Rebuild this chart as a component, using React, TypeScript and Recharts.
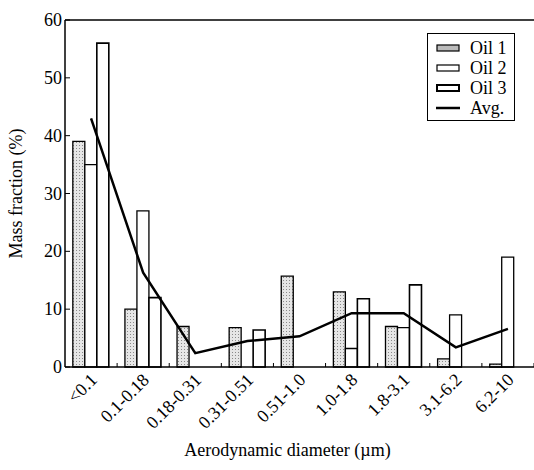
import React from "react";
import { ComposedChart, Bar, Line, XAxis, YAxis, ReferenceLine, Label } from "recharts";

const sizeBins = ["<0.1", "0.1-0.18", "0.18-0.31", "0.31-0.51", "0.51-1.0", "1.0-1.8", "1.8-3.1", "3.1-6.2", "6.2-10"];
const oil1 = [39, 10, 7, 6.8, 15.7, 13, 7, 1.4, 0.5];
const oil2 = [35, 27, 0, 0, 0, 3.2, 6.8, 9, 19];
const oil3 = [56, 12, 0, 6.4, 0, 11.8, 14.2, 0, 0];
const avg = [43, 16.3, 2.4, 4.5, 5.3, 9.3, 9.3, 3.4, 6.6];
const yTicks = [0, 10, 20, 30, 40, 50, 60];

const data = sizeBins.map((bin, i) => ({
  bin,
  oil1: oil1[i],
  oil2: oil2[i],
  oil3: oil3[i],
  avg: avg[i],
}));

const FONT = "'Liberation Serif', 'DejaVu Serif', serif";
const W = 534;
const H = 470;
const LEFT = 65;
const PLOT_W = W - LEFT;

const YTick = (props: any) => {
  const { x, y, payload } = props;
  return (
    <g>
      <line x1={x} x2={x + 5} y1={y} y2={y} stroke="#000" strokeWidth={1} />
      <text x={x - 3} y={y} dy={6} textAnchor="end" fontFamily={FONT} fontSize={18} fill="#000">
        {payload.value}
      </text>
    </g>
  );
};

const XTick = (props: any) => {
  const { x, y, payload } = props;
  const half = payload.offset || PLOT_W / sizeBins.length / 2;
  const tx = x + 7;
  const ty = y + 14;
  return (
    <g>
      <line x1={x + half} x2={x + half} y1={y} y2={y - 4} stroke="#000" strokeWidth={1} />
      <text
        x={tx}
        y={ty}
        textAnchor="end"
        transform={`rotate(-45, ${tx}, ${ty})`}
        fontFamily={FONT}
        fontSize={18}
        fill="#000"
      >
        {payload.value}
      </text>
    </g>
  );
};

const legendItems = [
  { name: "Oil 1", kind: "dots" },
  { name: "Oil 2", kind: "thin" },
  { name: "Oil 3", kind: "thick" },
  { name: "Avg.", kind: "line" },
];

const LegendBox = () => (
  <div
    style={{
      position: "absolute",
      left: 427,
      top: 33,
      width: 72,
      border: "1.5px solid #000",
      background: "#fff",
      padding: "4px 6px 2px 8px",
      fontFamily: FONT,
      fontSize: 18,
      lineHeight: "20px",
      color: "#000",
      whiteSpace: "nowrap",
    }}
  >
    {legendItems.map((it) => (
      <div key={it.name} style={{ display: "flex", alignItems: "center" }}>
        <svg width={24} height={10} style={{ marginRight: 10 }}>
          {it.kind === "line" ? (
            <line x1={0} x2={24} y1={5} y2={5} stroke="#000" strokeWidth={2.5} />
          ) : (
            <rect
              x={1}
              y={2}
              width={22}
              height={6}
              fill={it.kind === "dots" ? "#bbb" : "#fff"}
              stroke="#000"
              strokeWidth={it.kind === "thick" ? 2 : 1.2}
            />
          )}
        </svg>
        <span>{it.name}</span>
      </div>
    ))}
  </div>
);

export default function App() {
  return (
    <div style={{ position: "absolute", left: 0, top: 0, width: W, height: H, background: "#fff" }}>
      <ComposedChart
        width={W}
        height={H}
        data={data}
        margin={{ top: 20, right: 0, left: 0, bottom: 0 }}
        barCategoryGap="15%"
        barGap={0}
      >
        <defs>
          <pattern id="stipple" width="3" height="3" patternUnits="userSpaceOnUse">
            <rect width="3" height="3" fill="#e6e6e6" />
            <rect x="1" y="1" width="1" height="1" fill="#8a8a8a" />
          </pattern>
        </defs>
        <XAxis
          dataKey="bin"
          height={103}
          tickLine={false}
          tickSize={0}
          tickMargin={0}
          interval={0}
          tick={<XTick />}
          axisLine={{ stroke: "#000", strokeWidth: 1.5 }}
        >
          <Label
            content={(p: any) => {
              const vb = p.viewBox;
              return (
                <text
                  x={vb.x + vb.width / 2 - 12}
                  y={vb.y + vb.height - 14}
                  textAnchor="middle"
                  fontFamily={FONT}
                  fontSize={18}
                  fill="#000"
                >
                  Aerodynamic diameter (µm)
                </text>
              );
            }}
          />
        </XAxis>
        <YAxis
          width={LEFT}
          domain={[0, 60]}
          ticks={yTicks}
          tickLine={false}
          tickSize={0}
          tickMargin={0}
          tick={<YTick />}
          axisLine={{ stroke: "#000", strokeWidth: 1.5 }}
        >
          <Label
            content={(p: any) => {
              const vb = p.viewBox;
              const cx = 22;
              const cy = vb.y + vb.height / 2;
              return (
                <text
                  x={cx}
                  y={cy}
                  textAnchor="middle"
                  transform={`rotate(-90, ${cx}, ${cy})`}
                  fontFamily={FONT}
                  fontSize={18}
                  fill="#000"
                >
                  Mass fraction (%)
                </text>
              );
            }}
          />
        </YAxis>
        <ReferenceLine y={60} stroke="#000" strokeWidth={1.5} />
        <Bar dataKey="oil1" name="Oil 1" fill="url(#stipple)" stroke="#000" strokeWidth={1.3} isAnimationActive={false} />
        <Bar dataKey="oil2" name="Oil 2" fill="#fff" stroke="#000" strokeWidth={1.3} isAnimationActive={false} />
        <Bar dataKey="oil3" name="Oil 3" fill="#fff" stroke="#000" strokeWidth={1.6} isAnimationActive={false} />
        <Line
          dataKey="avg"
          name="Avg."
          type="linear"
          stroke="#000"
          strokeWidth={2.5}
          dot={false}
          activeDot={false}
          isAnimationActive={false}
        />
      </ComposedChart>
      <LegendBox />
    </div>
  );
}
